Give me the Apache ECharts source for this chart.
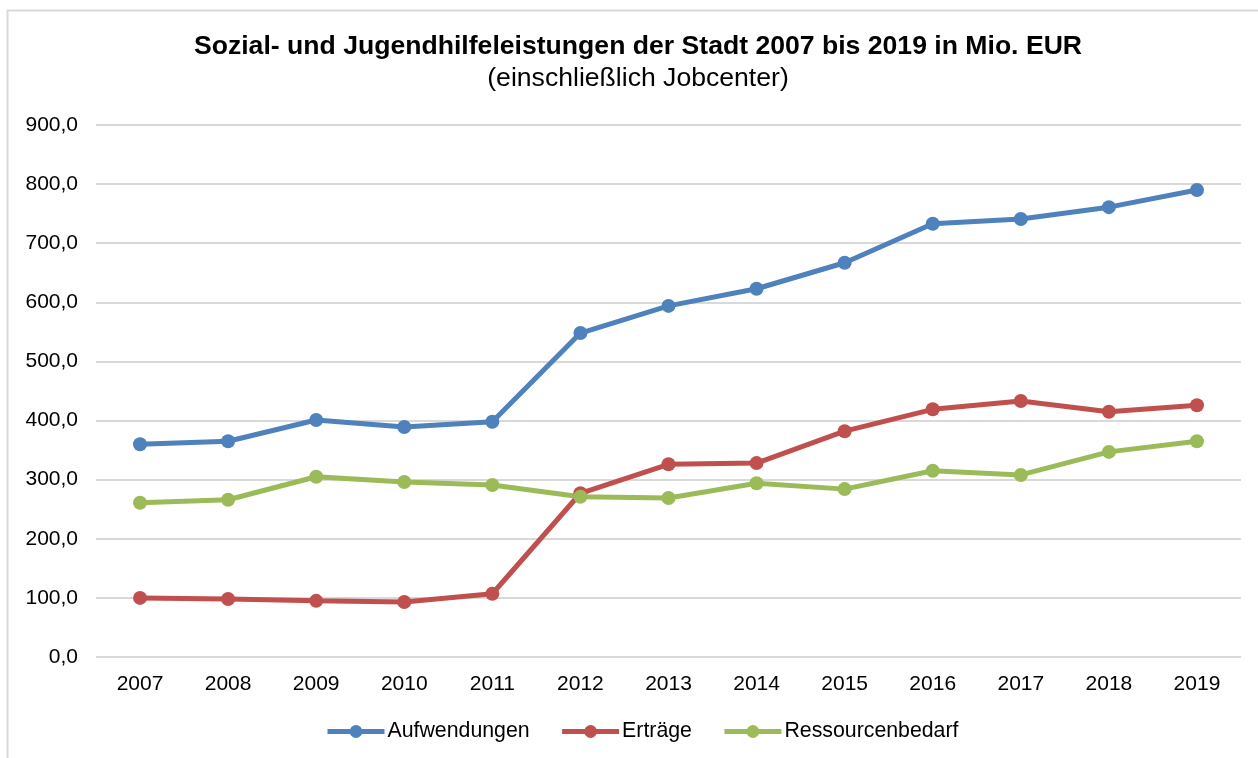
<!DOCTYPE html>
<html>
<head>
<meta charset="utf-8">
<script src="https://cdn.jsdelivr.net/npm/echarts@6/dist/echarts.min.js"></script>
<style>
html, body { margin: 0; padding: 0; background: #fff; }
#chart { width: 1258px; height: 758px; }
</style>
</head>
<body>
<div id="chart"></div>
<script>
const years = ['2007', '2008', '2009', '2010', '2011', '2012', '2013', '2014', '2015', '2016', '2017', '2018', '2019'];
const aufwendungen = [360, 365, 401, 389, 398, 548, 594, 623, 667, 733, 741, 761, 790];
const ertraege = [100, 98, 95, 93, 107, 277, 326, 328, 382, 419, 433, 415, 426];
const ressourcenbedarf = [261, 266, 305, 296, 291, 271, 269, 294, 284, 315, 308, 347, 365];

const fontFam = '"Liberation Sans", Arial, sans-serif';

function mkSeries(name, data, color) {
    return {
        name: name,
        type: 'line',
        data: data,
        symbol: 'circle',
        symbolSize: 14,
        itemStyle: { color: color },
        lineStyle: { color: color, width: 5 },
        emphasis: { disabled: true }
    };
}

var myChart = echarts.init(document.getElementById('chart'));
var option = {
    animation: false,
    textStyle: { fontFamily: fontFam },
    title: {
        text: 'Sozial- und Jugendhilfeleistungen der Stadt 2007 bis 2019 in Mio. EUR',
        subtext: '(einschließlich Jobcenter)',
        left: 633,
        textAlign: 'center',
        top: 27,
        itemGap: 2,
        textStyle: { fontSize: 26.6, fontWeight: 'bold', color: '#000', fontFamily: fontFam, lineHeight: 30 },
        subtextStyle: { fontSize: 26.6, color: '#000', fontFamily: fontFam, lineHeight: 30 }
    },
    graphic: [{
        type: 'rect',
        shape: { x: 7.5, y: 10.5, width: 1300, height: 800 },
        style: { fill: 'none', stroke: '#d9d9d9', lineWidth: 2 },
        silent: true
    }],
    legend: {
        top: 716,
        left: 320,
        itemWidth: 57,
        itemHeight: 16,
        itemGap: 30,
        lineStyle: { width: 5 },
        textStyle: { fontSize: 21.3, color: '#000', fontFamily: fontFam, padding: [0, 0, 0, -2] },
        data: ['Aufwendungen', 'Erträge', 'Ressourcenbedarf']
    },
    grid: {
        left: 96,
        right: 17,
        top: 125,
        bottom: 101
    },
    xAxis: {
        type: 'category',
        data: years,
        boundaryGap: true,
        axisLine: { show: false },
        axisTick: { show: false },
        axisLabel: { fontSize: 21, color: '#000', margin: 17 }
    },
    yAxis: {
        type: 'value',
        min: 0,
        max: 900,
        interval: 100,
        axisLine: { show: false },
        axisTick: { show: false },
        splitLine: { lineStyle: { color: '#d9d9d9', width: 2 } },
        axisLabel: {
            fontSize: 21,
            color: '#000',
            margin: 18,
            formatter: function (v) { return v.toFixed(1).replace('.', ','); }
        }
    },
    series: [
        mkSeries('Aufwendungen', aufwendungen, '#4f81bd'),
        mkSeries('Erträge', ertraege, '#c0504d'),
        mkSeries('Ressourcenbedarf', ressourcenbedarf, '#9bbb59')
    ]
};
myChart.setOption(option);
</script>
</body>
</html>
